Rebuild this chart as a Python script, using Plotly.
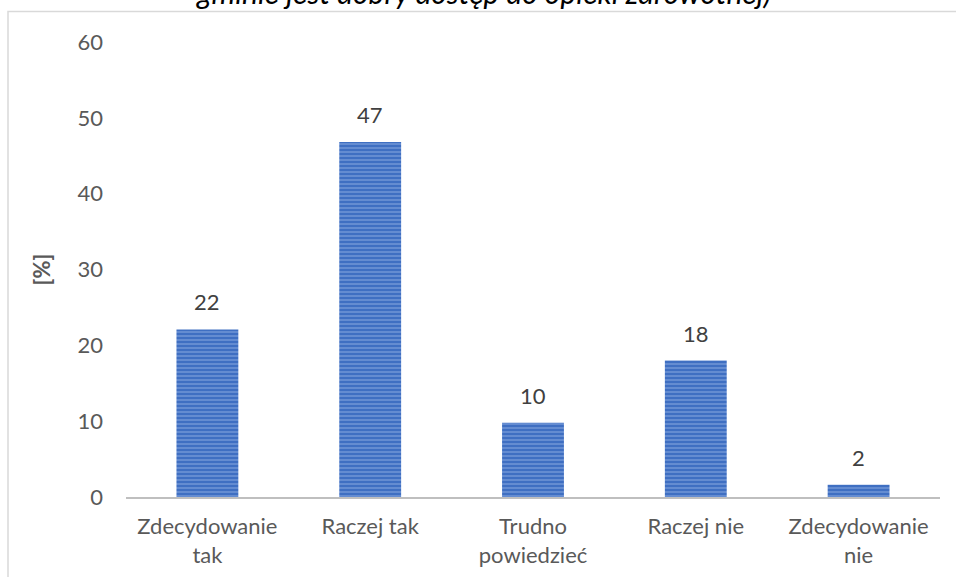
import plotly.graph_objects as go

categories = ["Zdecydowanie<br>tak", "Raczej tak", "Trudno<br>powiedzieć", "Raczej nie", "Zdecydowanie<br>nie"]
values = [22.1, 46.8, 9.8, 18.0, 1.6]
labels = ["22", "47", "10", "18", "2"]
y_ticks = [0, 10, 20, 30, 40, 50, 60]

FONT = "Lato"
FS = 22
W, H = 956, 577
ML, MR, MT, MB = 126, 16, 42, 80
pw = W - ML - MR
ph = H - MT - MB

def px_x(x):
    return (x - ML) / pw

def px_y(y):
    return 1 + (MT - y) / ph

fig = go.Figure()
fig.add_trace(go.Bar(
    x=categories,
    y=values,
    width=0.38,
    marker=dict(
        color="#3F6FC2",
        line=dict(width=0),
        pattern=dict(shape="-", fgcolor="#A8C3EC", size=4, solidity=0.35),
    ),
    hoverinfo="x+y",
))

label_annotations = [
    dict(x=c, y=v, text=t, xref="x", yref="y", showarrow=False,
         yanchor="bottom", yshift=12,
         font=dict(family=FONT, size=FS, color="#404040"))
    for c, v, t in zip(categories, values, labels)
]

fig.update_layout(
    width=W, height=H,
    margin=dict(l=ML, r=MR, t=MT, b=MB, autoexpand=False),
    paper_bgcolor="white",
    plot_bgcolor="white",
    showlegend=False,
    font=dict(family=FONT, color="#595959", size=FS),
    xaxis=dict(
        automargin=False,
        showgrid=False, showline=True, linecolor="#BFBFBF", linewidth=2,
        ticks="", ticklabelstandoff=9,
        tickfont=dict(family=FONT, size=FS, color="#595959"),
    ),
    yaxis=dict(
        automargin=False,
        range=[0, 60], tickvals=y_ticks, showgrid=False, showline=False,
        zeroline=False, ticks="", ticklabelstandoff=22,
        tickfont=dict(family=FONT, size=FS, color="#595959"),
        title=dict(text="<b>[%]</b>", font=dict(family=FONT, size=FS, color="#595959"), standoff=20),
    ),
    shapes=[dict(
        type="rect", xref="paper", yref="paper",
        x0=px_x(8), x1=px_x(990), y0=px_y(620), y1=px_y(11.5),
        line=dict(color="#D9D9D9", width=1.5), fillcolor="rgba(0,0,0,0)", layer="below",
    )],
    annotations=label_annotations + [dict(
        text="<i>gminie jest dobry dostęp do opieki zdrowotnej)</i>",
        xref="paper", yref="paper", x=px_x(483), y=px_y(12),
        xanchor="center", yanchor="bottom", showarrow=False,
        font=dict(family=FONT, size=30, color="#000000"),
    )],
)

fig.write_html(
    "out.html",
    config={"displayModeBar": False},
    post_script="document.body.style.margin='0';document.body.style.overflow='hidden';",
)
